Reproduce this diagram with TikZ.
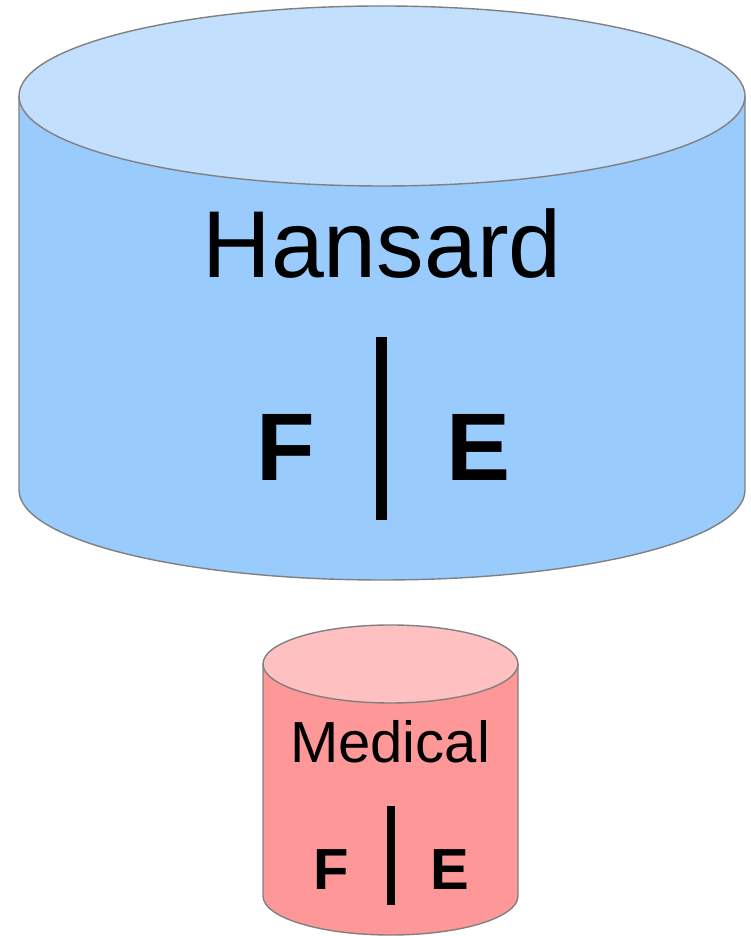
\documentclass[tikz,border=0pt]{standalone}
\usepackage{fontspec}
\setmainfont{Liberation Sans}
\definecolor{hansbody}{HTML}{99CBFD}
\definecolor{hanstop}{HTML}{C2DFFE}
\definecolor{medbody}{HTML}{FE9898}
\definecolor{medtop}{HTML}{FEC0C0}
\definecolor{rim}{HTML}{808080}
\tikzset{
  rimline/.style={draw=rim, line width=1.4pt},
  label/.style={inner sep=0pt, anchor=base, text=black},
  divider/.style={black, line width=#1}
}
\begin{document}
\begin{tikzpicture}[x=1pt, y=1pt]
    \useasboundingbox (0,0) rectangle (751,936);

    % Hansard cylinder
    \fill[hansbody] (19,840) -- (19,446) arc[start angle=180, end angle=360, x radius=363pt, y radius=90pt] -- (745,840) -- cycle;
    \draw[rimline] (19,840) -- (19,446) arc[start angle=180, end angle=360, x radius=363pt, y radius=90pt] -- (745,840);
    \filldraw[rimline, fill=hanstop] (382,840) ellipse[x radius=363pt, y radius=90pt];

    % Medical cylinder
    \fill[medbody] (263,272) -- (263,40) arc[start angle=180, end angle=360, x radius=127.5pt, y radius=39pt] -- (518,272) -- cycle;
    \draw[rimline] (263,272) -- (263,40) arc[start angle=180, end angle=360, x radius=127.5pt, y radius=39pt] -- (518,272);
    \filldraw[rimline, fill=medtop] (390.5,272) ellipse[x radius=127.5pt, y radius=39pt];

    % Labels
    \node[label, font=\fontsize{95}{95}\selectfont] (hansard) at (382,658) {Hansard};
    \node[label, font=\fontsize{96}{96}\selectfont\bfseries] (hansF) at (285.5,455) {F};
    \node[label, font=\fontsize{96}{96}\selectfont\bfseries] (hansE) at (479,455) {E};
    \node[label, font=\fontsize{58}{58}\selectfont] (medical) at (390,173) {Medical};
    \node[label, font=\fontsize{58}{58}\selectfont\bfseries] (medF) at (331,46) {F};
    \node[label, font=\fontsize{58}{58}\selectfont\bfseries] (medE) at (450,46) {E};

    % Dividers
    \draw[divider=11pt] (381.5,599) -- (381.5,416);
    \draw[divider=8pt] (391,130) -- (391,31);
\end{tikzpicture}
\end{document}
